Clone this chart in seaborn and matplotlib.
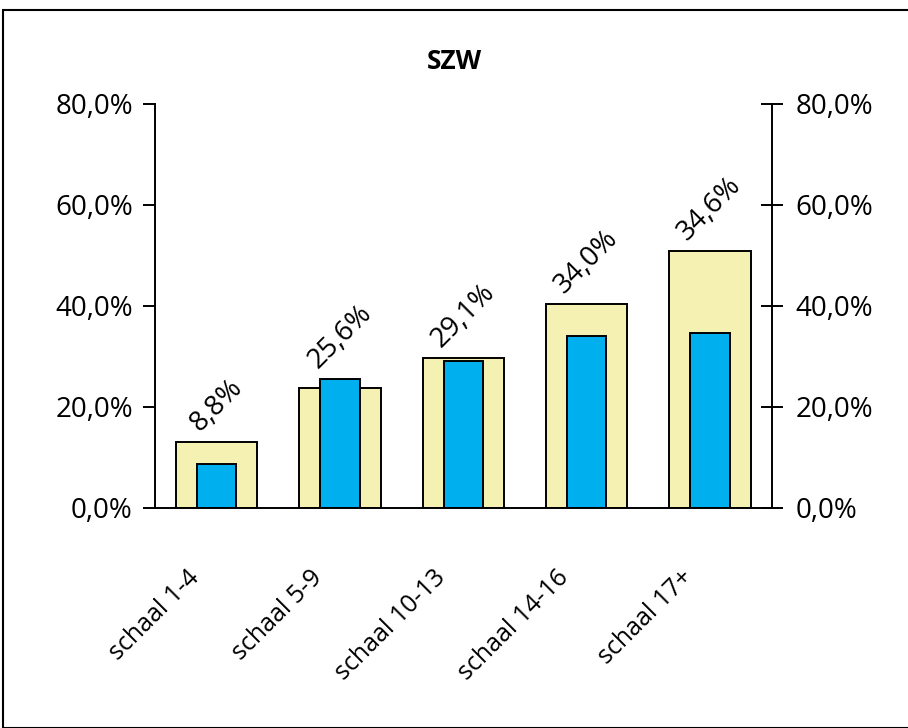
import pandas as pd
import seaborn as sns
import matplotlib.pyplot as plt
from matplotlib.ticker import FuncFormatter, MultipleLocator
from matplotlib.patches import Rectangle
from matplotlib.transforms import ScaledTranslation

categories = ['schaal 1-4', 'schaal 5-9', 'schaal 10-13', 'schaal 14-16', 'schaal 17+']
yellow_vals = [13.0, 23.7, 29.7, 40.3, 50.9]
blue_vals = [8.8, 25.6, 29.1, 34.0, 34.6]
labels = ['8,8%', '25,6%', '29,1%', '34,0%', '34,6%']

sns.set_style('white')
plt.rcParams['font.family'] = ['Open Sans', 'DejaVu Sans']
plt.rcParams['text.color'] = 'black'
plt.rcParams['xtick.color'] = 'black'
plt.rcParams['ytick.color'] = 'black'

df = pd.DataFrame({'cat': categories, 'yellow': yellow_vals, 'blue': blue_vals})

fig = plt.figure(figsize=(9.08, 7.28), dpi=100)
ax = fig.add_axes([0.1707, 0.3022, 0.679, 0.555])

sns.barplot(data=df, x='cat', y='yellow', order=categories, color='#F5F1B2',
            saturation=1, width=0.66, edgecolor='black', linewidth=1.4, ax=ax)
sns.barplot(data=df, x='cat', y='blue', order=categories, color='#00B0EE',
            saturation=1, width=0.32, edgecolor='black', linewidth=1.4, ax=ax)

for i, (y1, y2) in enumerate(zip(yellow_vals, blue_vals)):
    ax.text(i, max(y1, y2) + 1.0, labels[i], rotation=45, ha='center', va='bottom',
            fontsize=20)

fmt = FuncFormatter(lambda v, p: f'{v:.1f}%'.replace('.', ','))
ax.set_ylim(0, 80)
ax.set_xlim(-0.5, 4.5)
ax.yaxis.set_major_locator(MultipleLocator(20))
ax.yaxis.set_major_formatter(fmt)
ax.set_xlabel('')
ax.set_ylabel('')
ax.set_xticks([i for i in range(5)])
ax.set_xticklabels(categories, rotation=45, ha='right', rotation_mode='anchor', fontsize=18)
ax.tick_params(axis='x', length=0, pad=18)
shift = ScaledTranslation(-0.30, -0.32, fig.dpi_scale_trans)
for lab in ax.get_xticklabels():
    lab.set_transform(lab.get_transform() + shift)
ax.set_xticks([i - 0.5 for i in range(6)], minor=True)
ax.tick_params(axis='x', which='minor', length=10, width=1.4, direction='out', color='black')
ax.tick_params(axis='y', length=9, width=1.4, direction='out', color='black', labelsize=20, pad=7)

for s in ['top', 'right']:
    ax.spines[s].set_visible(False)
for s in ['left', 'bottom']:
    ax.spines[s].set_color('black')
    ax.spines[s].set_linewidth(1.4)

ax2 = ax.twinx()
ax2.set_ylim(0, 80)
ax2.yaxis.set_major_locator(MultipleLocator(20))
ax2.yaxis.set_major_formatter(fmt)
ax2.tick_params(axis='y', length=16, width=1.4, direction='inout', color='black', labelsize=20, pad=9)
for s in ['top', 'left', 'bottom']:
    ax2.spines[s].set_visible(False)
ax2.spines['right'].set_color('black')
ax2.spines['right'].set_linewidth(1.4)

fig.text(0.5, 0.915, 'SZW', ha='center', va='center', fontsize=19, fontweight='bold')

fig.patches.append(Rectangle((3 / 908, 0.0), 1.0, 1 - 10 / 728, transform=fig.transFigure,
                             fill=False, edgecolor='black', linewidth=1.5))

fig.savefig('out.png', dpi=100)
